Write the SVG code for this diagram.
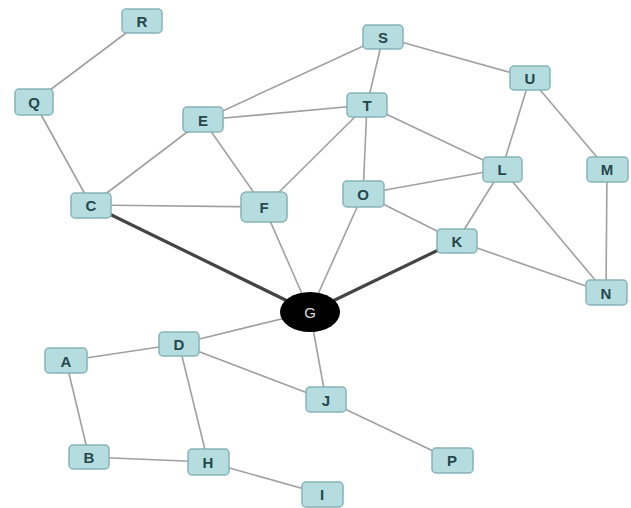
<svg xmlns="http://www.w3.org/2000/svg" width="631" height="508" viewBox="0 0 631 508">
<style>
.e{stroke:#a0a0a0;stroke-width:1.6;fill:none}
.t{stroke:#444;stroke-width:3.2}
.n rect{fill:#b5dde0;stroke:#86b4b8;stroke-width:1.5}
text{font-family:"Liberation Sans",Arial,sans-serif;font-size:15px;font-weight:bold;fill:#26484c;text-anchor:middle;dominant-baseline:central}
</style>
<rect width="631" height="508" fill="#fff"/>
<g id="edges">
<line class="e" x1="142" y1="21" x2="34" y2="102"/>
<line class="e" x1="34" y1="102" x2="91" y2="205"/>
<line class="e" x1="91" y1="205" x2="203" y2="120"/>
<line class="e" x1="91" y1="205" x2="264" y2="207"/>
<line class="e t" x1="91" y1="205" x2="310" y2="312"/>
<line class="e" x1="203" y1="120" x2="383" y2="37"/>
<line class="e" x1="203" y1="120" x2="367" y2="105"/>
<line class="e" x1="203" y1="120" x2="264" y2="207"/>
<line class="e" x1="264" y1="207" x2="367" y2="105"/>
<line class="e" x1="264" y1="207" x2="310" y2="312"/>
<line class="e" x1="383" y1="37" x2="367" y2="105"/>
<line class="e" x1="383" y1="37" x2="530" y2="78"/>
<line class="e" x1="367" y1="105" x2="363" y2="194"/>
<line class="e" x1="367" y1="105" x2="502" y2="169"/>
<line class="e" x1="530" y1="78" x2="502" y2="169"/>
<line class="e" x1="530" y1="78" x2="607" y2="169"/>
<line class="e" x1="363" y1="194" x2="502" y2="169"/>
<line class="e" x1="363" y1="194" x2="457" y2="241"/>
<line class="e" x1="363" y1="194" x2="310" y2="312"/>
<line class="e" x1="502" y1="169" x2="457" y2="241"/>
<line class="e" x1="502" y1="169" x2="606" y2="293"/>
<line class="e" x1="607" y1="169" x2="606" y2="293"/>
<line class="e" x1="457" y1="241" x2="606" y2="293"/>
<line class="e t" x1="457" y1="241" x2="310" y2="312"/>
<line class="e" x1="310" y1="312" x2="179" y2="344"/>
<line class="e" x1="310" y1="312" x2="326" y2="400"/>
<line class="e" x1="179" y1="344" x2="66" y2="361"/>
<line class="e" x1="179" y1="344" x2="208" y2="462"/>
<line class="e" x1="179" y1="344" x2="326" y2="400"/>
<line class="e" x1="66" y1="361" x2="89" y2="457"/>
<line class="e" x1="89" y1="457" x2="208" y2="462"/>
<line class="e" x1="208" y1="462" x2="322" y2="494"/>
<line class="e" x1="326" y1="400" x2="452" y2="460"/>
</g>
<g id="R" class="n"><rect x="122" y="9" width="40" height="24" rx="4"/><text x="142" y="21">R</text></g>
<g id="Q" class="n"><rect x="15" y="89" width="38" height="26" rx="4"/><text x="34" y="102">Q</text></g>
<g id="E" class="n"><rect x="183" y="107" width="40" height="25" rx="4"/><text x="203" y="120">E</text></g>
<g id="C" class="n"><rect x="71" y="193" width="40" height="25" rx="4"/><text x="91" y="205">C</text></g>
<g id="F" class="n"><rect x="241" y="192" width="46" height="30" rx="5"/><text x="264" y="207">F</text></g>
<g id="S" class="n"><rect x="363" y="25" width="40" height="24" rx="4"/><text x="383" y="37">S</text></g>
<g id="U" class="n"><rect x="510" y="66" width="40" height="24" rx="4"/><text x="530" y="78">U</text></g>
<g id="T" class="n"><rect x="347" y="93" width="40" height="24" rx="4"/><text x="367" y="105">T</text></g>
<g id="L" class="n"><rect x="483" y="157" width="39" height="25" rx="4"/><text x="502" y="169">L</text></g>
<g id="M" class="n"><rect x="587" y="157" width="41" height="25" rx="4"/><text x="607" y="169">M</text></g>
<g id="O" class="n"><rect x="343" y="181" width="41" height="26" rx="4"/><text x="363" y="194">O</text></g>
<g id="K" class="n"><rect x="437" y="229" width="40" height="24" rx="4"/><text x="457" y="241">K</text></g>
<g id="N" class="n"><rect x="586" y="280" width="41" height="25" rx="4"/><text x="606" y="293">N</text></g>
<g id="G"><ellipse cx="310" cy="312" rx="30" ry="20" fill="#000"/><text x="310" y="312" style="fill:#ddd;font-weight:normal">G</text></g>
<g id="J" class="n"><rect x="306" y="387" width="40" height="25" rx="4"/><text x="326" y="400">J</text></g>
<g id="P" class="n"><rect x="432" y="448" width="41" height="25" rx="4"/><text x="452" y="460">P</text></g>
<g id="I" class="n"><rect x="302" y="482" width="41" height="25" rx="4"/><text x="322" y="494">I</text></g>
<g id="A" class="n"><rect x="45" y="348" width="42" height="25" rx="4"/><text x="66" y="361">A</text></g>
<g id="D" class="n"><rect x="159" y="332" width="40" height="24" rx="4"/><text x="179" y="344">D</text></g>
<g id="B" class="n"><rect x="69" y="445" width="40" height="24" rx="4"/><text x="89" y="457">B</text></g>
<g id="H" class="n"><rect x="188" y="449" width="41" height="26" rx="4"/><text x="208" y="462">H</text></g>
</svg>
